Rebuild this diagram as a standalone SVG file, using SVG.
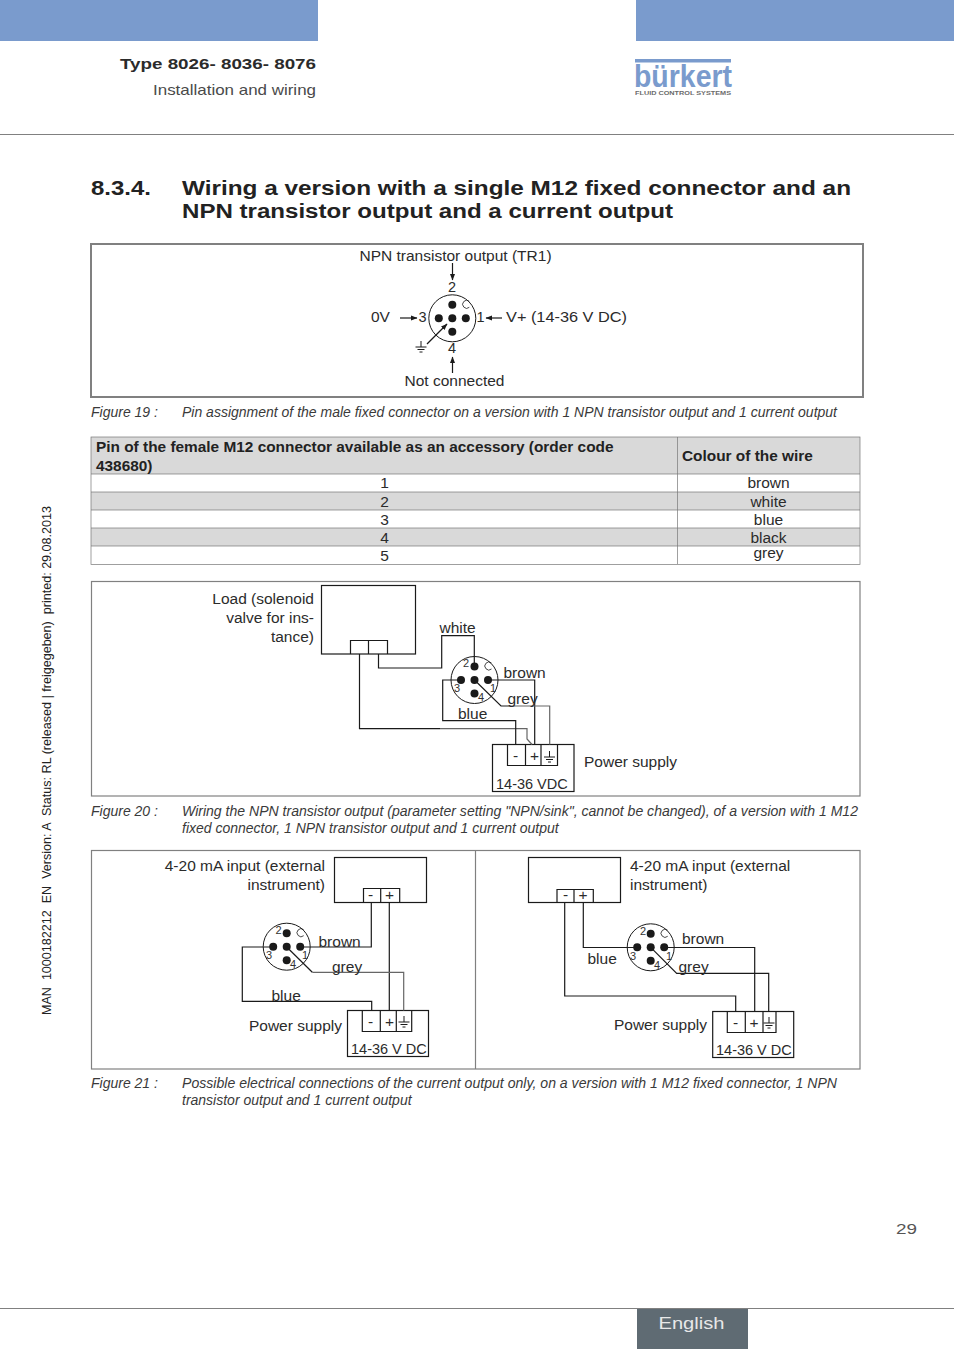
<svg xmlns="http://www.w3.org/2000/svg" xmlns:xlink="http://www.w3.org/1999/xlink" width="954" height="1350" viewBox="0 0 954 1350">
<style>
text{font-family:"Liberation Sans",Arial,sans-serif;fill:#2b2b2b}
.l{font-size:15.500px}
.m{font-size:14.500px}
.r{text-anchor:end}
.c{text-anchor:middle}
.pin{font-size:11px;fill:#333}
.cap{font-size:14px;font-style:italic;fill:#3a3a3a}
.h{font-size:20px;font-weight:bold;fill:#222}
.th{font-size:15.400px;font-weight:bold;fill:#222}
.frame{fill:none;stroke:#808080;stroke-width:1.200}
.frame2{fill:none;stroke:#808080;stroke-width:2}
.w{fill:none;stroke:#1a1a1a;stroke-width:1.200}
.g{fill:none;stroke:#666;stroke-width:1.200}
.box{fill:#fff;stroke:#1a1a1a;stroke-width:1.200}
.dot{fill:#1a1a1a}
.tl{stroke:#777;stroke-width:.7}
.band{fill:#d9d9d9}
.top{fill:#7a9bcd}
</style>
<defs>
<marker id="ah" markerWidth="7" markerHeight="6" refX="6" refY="3" orient="auto" markerUnits="userSpaceOnUse"><path d="M0 0.5L6.500 3L0 5.500z" fill="#1a1a1a"/></marker>
<g id="gnd" fill="none" stroke="#1a1a1a" stroke-width="1"><path d="M0 -6V0M-5.500 0H5.500M-3.500 2.500H3.500M-1.500 5H1.500"/></g>
<g id="plug">
<circle r="23.500" fill="#fff" stroke="#1a1a1a" stroke-width="1"/>
<circle class="dot" cx="0" cy="-13.500" r="4"/><circle class="dot" cx="-13.500" cy="0" r="4"/><circle class="dot" cx="13.500" cy="0" r="4"/><circle class="dot" cx="0" cy="13.500" r="4"/><circle class="dot" cx="0" cy="0" r="4"/>
<path d="M17 -17A4 4 0 1 0 17 -11" fill="none" stroke="#1a1a1a" stroke-width=".8"/>
</g>
</defs>

<g id="header">
<rect class="top" x="0" y="0" width="318" height="41"/>
<rect class="top" x="636" y="0" width="318" height="41"/>
<text x="120" y="69" font-size="15" font-weight="bold" textLength="196" lengthAdjust="spacingAndGlyphs" style="fill:#2b2b2b">Type 8026- 8036- 8076</text>
<text x="153" y="95" font-size="15" textLength="163" lengthAdjust="spacingAndGlyphs" style="fill:#4a4a4a">Installation and wiring</text>
<line x1="0" y1="134.500" x2="954" y2="134.500" stroke="#808080" stroke-width="1"/>
</g>
<g id="logo">
<rect x="635" y="59" width="96" height="3.500" fill="#7a9bcd"/>
<text x="634" y="86.500" font-size="31" font-weight="bold" textLength="98" lengthAdjust="spacingAndGlyphs" style="fill:#7a9bcd">bürkert</text>
<text x="635" y="94.500" font-size="6" font-weight="bold" textLength="96" lengthAdjust="spacingAndGlyphs" style="fill:#6a6a6a">FLUID CONTROL SYSTEMS</text>
</g>

<g id="side"><text transform="translate(51,1015) rotate(-90)" font-size="12" textLength="509" lengthAdjust="spacingAndGlyphs" style="fill:#222;white-space:pre">MAN  1000182212  EN  Version: A  Status: RL (released | freigegeben)  printed: 29.08.2013</text></g>

<g id="heading">
<text class="h" x="91" y="195" textLength="60" lengthAdjust="spacingAndGlyphs">8.3.4.</text>
<text class="h" x="182" y="195" textLength="669" lengthAdjust="spacingAndGlyphs">Wiring a version with a single M12 fixed connector and an</text>
<text class="h" x="182" y="218" textLength="491" lengthAdjust="spacingAndGlyphs">NPN transistor output and a current output</text>
</g>

<g id="figure19">
<rect class="frame2" x="91" y="244" width="772" height="153"/>
<text class="l c" x="455.500" y="261">NPN transistor output (TR1)</text>
<text class="l" x="371" y="322">0V</text>
<text class="l" x="506" y="322" textLength="121" lengthAdjust="spacingAndGlyphs">V+ (14-36 V DC)</text>
<text class="l c" x="454.500" y="386">Not connected</text>
<g id="fig19-plug" transform="translate(452.300,318.300)"><use xlink:href="#plug" href="#plug"/></g>
<text class="m c" x="452" y="292">2</text>
<text class="m" x="418.500" y="322">3</text>
<text class="m" x="476.500" y="322">1</text>
<text class="m c" x="452" y="353">4</text>
<use xlink:href="#gnd" href="#gnd" x="421" y="347"/>
</g>
<g id="figure19-connectors">
<line class="w" x1="452.500" y1="263" x2="452.500" y2="280" marker-end="url(#ah)"/>
<line class="w" x1="400" y1="318" x2="417" y2="318" marker-end="url(#ah)"/>
<line class="w" x1="502" y1="318" x2="486" y2="318" marker-end="url(#ah)"/>
<line class="w" x1="452.500" y1="373" x2="452.500" y2="357" marker-end="url(#ah)"/>
<line class="w" x1="427" y1="344" x2="447" y2="324" marker-end="url(#ah)"/>
</g>
<text class="cap" x="91" y="417">Figure 19 :</text>
<text class="cap" x="182" y="417" textLength="655" lengthAdjust="spacingAndGlyphs">Pin assignment of the male fixed connector on a version with 1 NPN transistor output and 1 current output</text>

<g id="table">
<rect class="band" x="91" y="437" width="769" height="37"/>
<rect class="band" x="91" y="492" width="769" height="18"/>
<rect class="band" x="91" y="528" width="769" height="18"/>
<rect x="91" y="437" width="769" height="127.500" fill="none" stroke="#777" stroke-width=".7"/>
<line class="tl" x1="91" y1="474" x2="860" y2="474"/>
<line class="tl" x1="91" y1="492" x2="860" y2="492"/>
<line class="tl" x1="91" y1="510" x2="860" y2="510"/>
<line class="tl" x1="91" y1="528" x2="860" y2="528"/>
<line class="tl" x1="91" y1="546" x2="860" y2="546"/>
<line class="tl" x1="677.500" y1="437" x2="677.500" y2="564"/>
<text class="th" x="96" y="452">Pin of the female M12 connector available as an accessory (order code</text>
<text class="th" x="96" y="471">438680)</text>
<text class="th" x="682" y="461">Colour of the wire</text>
<text class="l c" x="384.500" y="488">1</text><text class="l c" x="768.500" y="488">brown</text>
<text class="l c" x="384.500" y="507">2</text><text class="l c" x="768.500" y="507">white</text>
<text class="l c" x="384.500" y="525">3</text><text class="l c" x="768.500" y="525">blue</text>
<text class="l c" x="384.500" y="543">4</text><text class="l c" x="768.500" y="543">black</text>
<text class="l c" x="384.500" y="561">5</text><text class="l c" x="768.500" y="558">grey</text>
</g>

<rect class="frame" x="91.500" y="581.500" width="768.500" height="214.500"/>
<g id="fig20-load">
<rect class="box" x="321.500" y="585.500" width="94" height="68.500"/>
<path class="w" d="M350.500 654V640.500H387.500V654M368.500 640.500V654"/>
<text class="l r" x="314" y="604">Load (solenoid</text>
<text class="l r" x="314" y="623">valve for ins-</text>
<text class="l r" x="314" y="642">tance)</text>
</g>
<g id="fig20-plug">
<g transform="translate(474.500,680)"><use xlink:href="#plug" href="#plug"/></g>
<text class="pin" x="463" y="667">2</text><text class="pin" x="454" y="692">3</text><text class="pin" x="490" y="692">1</text><text class="pin" x="478" y="701">4</text>
</g>
<g id="fig20-supply">
<rect class="box" x="492.500" y="744.500" width="81.500" height="47"/>
<path class="w" d="M507.500 744.500V765.500H557.500V744.500M525.500 744.500V765.500M541 744.500V765.500"/>
<text class="l" x="513" y="761">-</text><text class="l" x="530" y="761">+</text>
<use xlink:href="#gnd" href="#gnd" x="549.500" y="757"/>
<text class="m" x="496" y="789">14-36 VDC</text>
<text class="l" x="584" y="767">Power supply</text>
</g>
<g id="fig20-connectors">
<path class="w" d="M378.500 654V668H441.700V635.700H474.300V666.500"/>
<path class="w" d="M359.500 654V728.700H440"/>
<path class="g" d="M440 728.700H527V739L532 744.500"/>
<path class="w" d="M461 680H442.700V720.700H515.700V744.500"/>
<path class="w" d="M488 680H534.700V744.500"/>
<path class="w" d="M474.500 680L501 706H510"/>
<path class="g" d="M510 706H549.700V744.500"/>
</g>
<text class="l" x="439.500" y="633">white</text>
<text class="l" x="503.500" y="678">brown</text>
<text class="l" x="507.500" y="704">grey</text>
<text class="l" x="458" y="719">blue</text>
<text class="cap" x="91" y="816">Figure 20 :</text>
<text class="cap" x="182" y="816" textLength="676" lengthAdjust="spacingAndGlyphs">Wiring the NPN transistor output (parameter setting "NPN/sink", cannot be changed), of a version with 1 M12</text>
<text class="cap" x="182" y="833">fixed connector, 1 NPN transistor output and 1 current output</text>

<rect class="frame" x="91.500" y="850.500" width="768.500" height="218.500"/>
<line class="frame" x1="475.500" y1="850" x2="475.500" y2="1069"/>

<g id="fig21a-instrument">
<rect class="box" x="334.500" y="857.500" width="92" height="45"/>
<path class="w" d="M363.500 902.500V888.500H399.700V902.500M380.700 888.500V902.500"/>
<text class="l" x="368" y="900">-</text><text class="l" x="385" y="900">+</text>
<text class="l r" x="325" y="871">4-20 mA input (external</text>
<text class="l r" x="325" y="890">instrument)</text>
</g>
<g id="fig21a-plug">
<g transform="translate(286.700,946.700)"><use xlink:href="#plug" href="#plug"/></g>
<text class="pin" x="275.500" y="934">2</text><text class="pin" x="266" y="959">3</text><text class="pin" x="302" y="959">1</text><text class="pin" x="290" y="968">4</text>
</g>
<g id="fig21a-supply">
<rect class="box" x="347.500" y="1010.500" width="81" height="46"/>
<path class="w" d="M362.300 1010.500V1031.500H411.700V1010.500M380.300 1010.500V1031.500M396.300 1010.500V1031.500"/>
<text class="l" x="368" y="1027">-</text><text class="l" x="385" y="1027">+</text>
<use xlink:href="#gnd" href="#gnd" x="404" y="1022"/>
<text class="m" x="351" y="1054">14-36 V DC</text>
<text class="l r" x="342" y="1031">Power supply</text>
</g>
<g id="fig21a-connectors">
<path class="w" d="M300 947H371.300V902.500"/>
<path class="w" d="M389.300 902.500V1010.500"/>
<path class="w" d="M273 947H242.300V1001.300H371.700V1010.500"/>
<path class="w" d="M286.700 947L312.300 972.300"/>
<path class="g" d="M312.300 972.300H403.700V1010.500"/>
</g>
<text class="l" x="318.500" y="947">brown</text>
<text class="l" x="332" y="972">grey</text>
<text class="l" x="271.500" y="1001">blue</text>

<g id="fig21b-instrument">
<rect class="box" x="528.500" y="857.500" width="92" height="45"/>
<path class="w" d="M557 902.500V889.500H593.300V902.500M574 889.500V902.500"/>
<text class="l" x="563" y="900">-</text><text class="l" x="578.500" y="900">+</text>
<text class="l" x="630" y="871">4-20 mA input (external</text>
<text class="l" x="630" y="890">instrument)</text>
</g>
<g id="fig21b-plug">
<g transform="translate(650.700,947.300)"><use xlink:href="#plug" href="#plug"/></g>
<text class="pin" x="640" y="935">2</text><text class="pin" x="630" y="960">3</text><text class="pin" x="666" y="960">1</text><text class="pin" x="654" y="969">4</text>
</g>
<g id="fig21b-supply">
<rect class="box" x="712.700" y="1011.500" width="81" height="46"/>
<path class="w" d="M727.300 1011.500V1032.500H776V1011.500M745.300 1011.500V1032.500M763 1011.500V1032.500"/>
<text class="l" x="733" y="1028">-</text><text class="l" x="749.500" y="1028">+</text>
<use xlink:href="#gnd" href="#gnd" x="769" y="1023"/>
<text class="m" x="716" y="1055">14-36 V DC</text>
<text class="l r" x="707" y="1030">Power supply</text>
</g>
<g id="fig21b-connectors">
<path class="w" d="M564.700 902.500V996H735.700V1011.500"/>
<path class="w" d="M583.300 902.500V947.500H637.300"/>
<path class="w" d="M664.300 947.500H754.700V1011.500"/>
<path class="w" d="M650.700 947.300L676.700 973.300H768.700V1011.500"/>
</g>
<text class="l" x="682" y="944">brown</text>
<text class="l" x="678.500" y="972">grey</text>
<text class="l" x="587.500" y="964">blue</text>

<text class="cap" x="91" y="1088">Figure 21 :</text>
<text class="cap" x="182" y="1088" textLength="655" lengthAdjust="spacingAndGlyphs">Possible electrical connections of the current output only, on a version with 1 M12 fixed connector, 1 NPN</text>
<text class="cap" x="182" y="1105">transistor output and 1 current output</text>

<g id="footer">
<text x="896" y="1234" font-size="15" textLength="21" lengthAdjust="spacingAndGlyphs" style="fill:#555">29</text>
<line x1="0" y1="1308.500" x2="954" y2="1308.500" stroke="#808080" stroke-width="1"/>
<rect x="637" y="1309" width="111" height="40" fill="#5f6b73"/>
<text x="658.500" y="1329" font-size="16" textLength="66" lengthAdjust="spacingAndGlyphs" style="fill:#e8e8e8">English</text>
</g>
</svg>
